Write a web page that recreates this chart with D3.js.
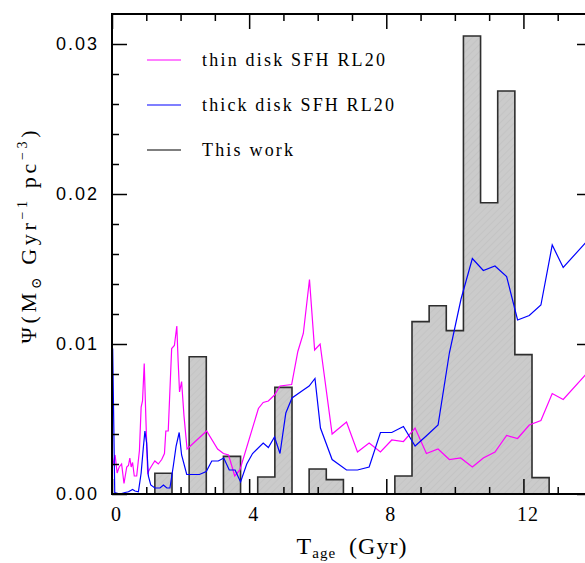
<!DOCTYPE html>
<html>
<head>
<meta charset="utf-8">
<script src="https://cdn.jsdelivr.net/npm/d3@7"></script>
<style>
  body { margin: 0; background: #fff; }
  svg { display: block; }
</style>
</head>
<body>
<svg id="chart" width="585" height="563"></svg>
<script>
// Thin-disk star formation history (RL20): age in Gyr, rate in Msun / Gyr / pc^3
const thinAge = [0.02, 0.09, 0.15, 0.21, 0.28, 0.35, 0.43, 0.48, 0.52, 0.56, 0.60, 0.65, 0.72, 0.80, 0.85, 0.89, 0.94, 0.99,
  1.04, 1.11, 1.19, 1.25, 1.35, 1.45, 1.53, 1.57, 1.64, 1.74, 1.82, 1.89, 1.93, 1.97, 2.03, 2.10, 2.19, 2.76,
  3.08, 3.25, 3.40, 3.58, 3.73, 4.27, 4.41, 4.56, 4.74, 4.90, 5.24, 5.42, 5.58, 5.76, 5.91, 6.07, 6.42, 6.84,
  7.16, 7.50, 7.83, 8.16, 8.50, 8.84, 9.17, 9.51, 9.84, 10.17, 10.51, 10.83, 11.17, 11.51, 11.83, 12.17,
  12.51, 12.84, 13.16, 13.83];
const thinSfr = [0.0019, 0.0026, 0.0014, 0.0018, 0.0020, 0.0007, 0.0018, 0.0019, 0.0024, 0.0018, 0.0021, 0.0012, 0.0012, 0.0029, 0.0058, 0.0062, 0.0087, 0.0049,
  0.0014, 0.0017, 0.0020, 0.0022, 0.0020, 0.0023, 0.0027, 0.0042, 0.0042, 0.0097, 0.0099, 0.0112, 0.0088, 0.0068, 0.0075, 0.0052, 0.0030, 0.0042,
  0.0030, 0.0027, 0.0026, 0.0012, 0.0016, 0.0057, 0.0061, 0.0062, 0.0066, 0.0072, 0.0073, 0.0095, 0.0107, 0.0143, 0.0096, 0.0100, 0.0040, 0.0048,
  0.0028, 0.0034, 0.0028, 0.0036, 0.0035, 0.0044, 0.0027, 0.0030, 0.0023, 0.0024, 0.0018, 0.0024, 0.0028, 0.0039, 0.0037, 0.0046,
  0.0049, 0.0067, 0.0063, 0.0080];

// Thick-disk star formation history (RL20)
const thickAge = [0.02, 0.08, 0.23, 0.38, 0.48, 0.60, 0.67, 0.77, 0.85, 0.91, 0.96, 1.01, 1.06, 1.13, 1.25, 1.40, 1.50, 1.60, 1.69,
  1.79, 1.87, 1.96, 2.03, 2.18, 2.55, 2.75, 2.91, 3.10, 3.26, 3.42, 3.59, 3.75, 3.93, 4.10, 4.41, 4.56, 4.74, 4.90,
  5.07, 5.25, 5.56, 5.75, 5.92, 6.08, 6.42, 6.84, 7.16, 7.50, 7.83, 8.16, 8.50, 8.84, 9.18, 9.51, 9.84, 10.18,
  10.51, 10.83, 11.17, 11.51, 11.83, 12.17, 12.51, 12.84, 13.16, 13.83];
const thickSfr = [0.0097, 0.0001, 0.0000, 0.0001, 0.00015, 0.0003, 0.0002, 0.00015, 0.0014, 0.0030, 0.0042, 0.0034, 0.0012, 0.0006, 0.0004, 0.0004, 0.0006, 0.0004, 0.0004,
  0.0019, 0.0032, 0.0041, 0.0026, 0.0013, 0.0013, 0.0015, 0.0022, 0.0022, 0.0024, 0.0016, 0.0016, 0.0008, 0.0020, 0.0027, 0.0034, 0.0031, 0.0038, 0.0027,
  0.0054, 0.0064, 0.0069, 0.0072, 0.0077, 0.0044, 0.0023, 0.0016, 0.0016, 0.0018, 0.0041, 0.0041, 0.0045, 0.0032, 0.0039, 0.0046, 0.0094, 0.0130,
  0.0157, 0.0149, 0.0152, 0.0145, 0.0116, 0.0119, 0.0126, 0.0166, 0.0151, 0.0168];

// Star formation history from this work: 0.5 Gyr bins starting at 1.25 Gyr
const histStart = 1.25;
const histWidth = 0.5;
const histValues = [0.00138, 0, 0.00915, 0, 0.00251, 0, 0.00113, 0.00711, 0, 0.00167, 0.00096, 0, 0, 0,
  0.00120, 0.01149, 0.01255, 0.01089, 0.03053, 0.01942, 0.02687, 0.00929, 0.00109];

// Axis ticks and labels
const xMajorTicks = [0, 4, 8, 12];
const xMinorTicks = [1, 2, 3, 5, 6, 7, 9, 10, 11, 13];
const yMajorTicks = [0, 0.01, 0.02, 0.03];
const yTickLabels = ["0.00", "0.01", "0.02", "0.03"];
const yMinorTicks = [0.002, 0.004, 0.006, 0.008, 0.012, 0.014, 0.016, 0.018, 0.022, 0.024, 0.026, 0.028];

const legendLabels = ["thin disk SFH RL20", "thick disk SFH RL20", "This work"];
const legendColors = ["#ff00ff", "#0000ff", "#000000"];

const frame = { left: 112, top: 14, right: 592, bottom: 494 };
const svg = d3.select("#chart");

const x = d3.scaleLinear().domain([0, 14]).range([frame.left, frame.right]);
const y = d3.scaleLinear().domain([0, 0.032]).range([frame.bottom, frame.top]);

const defs = svg.append("defs");
defs.append("clipPath").attr("id", "plotClip")
  .append("rect")
  .attr("x", frame.left).attr("y", frame.top)
  .attr("width", frame.right - frame.left).attr("height", frame.bottom - frame.top);

const hatch = defs.append("pattern")
  .attr("id", "hatch").attr("patternUnits", "userSpaceOnUse")
  .attr("width", 5).attr("height", 5)
  .attr("patternTransform", "rotate(45)");
hatch.append("rect").attr("width", 5).attr("height", 5).attr("fill", "#cbcbcb");
hatch.append("line").attr("x1", 0).attr("y1", 0).attr("x2", 0).attr("y2", 5)
  .attr("stroke", "#b9b9b9").attr("stroke-width", 0.8);

// Histogram as a closed step outline
const histPts = [[histStart, 0]];
histValues.forEach((v, i) => {
  const lo = histStart + i * histWidth;
  histPts.push([lo, v], [lo + histWidth, v]);
});
histPts.push([histStart + histValues.length * histWidth, 0]);

const plot = svg.append("g").attr("clip-path", "url(#plotClip)");

plot.append("path")
  .datum(histPts)
  .attr("d", d3.area().x(d => x(d[0])).y0(y(0)).y1(d => y(d[1])))
  .attr("fill", "url(#hatch)");

plot.append("path")
  .datum(histPts)
  .attr("d", d3.line().x(d => x(d[0])).y(d => y(d[1])))
  .attr("fill", "none").attr("stroke", "#2e2e2e").attr("stroke-width", 1.6);

const sfhLine = d3.line().x(d => x(d[0])).y(d => y(d[1]));
plot.append("path")
  .datum(d3.zip(thinAge, thinSfr))
  .attr("d", sfhLine)
  .attr("fill", "none").attr("stroke", "#ff00ff").attr("stroke-width", 1.2);
plot.append("path")
  .datum(d3.zip(thickAge, thickSfr))
  .attr("d", sfhLine)
  .attr("fill", "none").attr("stroke", "#0000ff").attr("stroke-width", 1.2);

// Axes: inward ticks on all four sides
function styleAxis(g) {
  g.select(".domain").remove();
  g.selectAll(".tick line").attr("stroke", "#000").attr("stroke-width", 1.5);
}

svg.append("g").attr("transform", `translate(0,${frame.bottom})`)
  .call(d3.axisBottom(x).tickValues(xMajorTicks).tickSize(-15).tickPadding(13).tickFormat(d3.format("d")))
  .call(styleAxis)
  .call(g => g.selectAll(".tick text")
    .attr("dx", 4)
    .attr("font-family", "'Liberation Serif', 'DejaVu Serif', serif")
    .attr("font-size", 20).attr("letter-spacing", 1).attr("fill", "#000"));
svg.append("g").attr("transform", `translate(0,${frame.bottom})`)
  .call(d3.axisBottom(x).tickValues(xMinorTicks).tickSize(-7).tickFormat(""))
  .call(styleAxis);

svg.append("g").attr("transform", `translate(0,${frame.top})`)
  .call(d3.axisTop(x).tickValues(xMajorTicks).tickSize(-15).tickFormat(""))
  .call(styleAxis);
svg.append("g").attr("transform", `translate(0,${frame.top})`)
  .call(d3.axisTop(x).tickValues(xMinorTicks).tickSize(-7).tickFormat(""))
  .call(styleAxis);

svg.append("g").attr("transform", `translate(${frame.left},0)`)
  .call(d3.axisLeft(y).tickValues(yMajorTicks).tickSize(-15).tickPadding(13)
    .tickFormat((d, i) => yTickLabels[i]))
  .call(styleAxis)
  .call(g => g.selectAll(".tick text")
    .attr("font-family", "'Liberation Sans', Arial, sans-serif")
    .attr("font-size", 18).attr("letter-spacing", 2).attr("fill", "#000"));
svg.append("g").attr("transform", `translate(${frame.left},0)`)
  .call(d3.axisLeft(y).tickValues(yMinorTicks).tickSize(-7).tickFormat(""))
  .call(styleAxis);

svg.append("g").attr("transform", `translate(${frame.right},0)`)
  .call(d3.axisRight(y).tickValues(yMajorTicks).tickSize(-15).tickFormat(""))
  .call(styleAxis);
svg.append("g").attr("transform", `translate(${frame.right},0)`)
  .call(d3.axisRight(y).tickValues(yMinorTicks).tickSize(-7).tickFormat(""))
  .call(styleAxis);

svg.append("rect")
  .attr("x", frame.left).attr("y", frame.top)
  .attr("width", frame.right - frame.left).attr("height", frame.bottom - frame.top)
  .attr("fill", "none").attr("stroke", "#000").attr("stroke-width", 2);

// Legend
const serif = "'Liberation Serif', 'DejaVu Serif', serif";
const legendWidths = [183, 192, 91];
const legend = svg.append("g");
legendLabels.forEach((label, i) => {
  const ly = 60 + i * 45;
  legend.append("line")
    .attr("x1", 147).attr("x2", 181).attr("y1", ly).attr("y2", ly)
    .attr("stroke", legendColors[i]).attr("stroke-width", 1.2);
  legend.append("text")
    .attr("x", 202).attr("y", ly + 6)
    .attr("font-family", serif).attr("font-size", 18)
    .attr("textLength", legendWidths[i]).attr("lengthAdjust", "spacing")
    .attr("fill", "#000")
    .text(label);
});

// Axis titles
const xt = svg.append("text")
  .attr("x", 352).attr("y", 554)
  .attr("text-anchor", "middle")
  .attr("font-family", serif).attr("font-size", 24).attr("letter-spacing", 1)
  .attr("fill", "#000");
xt.append("tspan").text("T");
xt.append("tspan").attr("font-size", 15).attr("dy", 4).text("age");
xt.append("tspan").attr("dy", -4).text("\u2002(Gyr)");

const yt = svg.append("text")
  .attr("transform", "translate(36,237) rotate(-90)")
  .attr("text-anchor", "middle")
  .attr("font-family", serif).attr("font-size", 22)
  .attr("textLength", 213).attr("lengthAdjust", "spacing")
  .attr("fill", "#000");
yt.append("tspan").text("\u03A8(M");
yt.append("tspan").attr("font-size", 14).attr("dy", 5).text("\u2299");
yt.append("tspan").attr("dy", -5).text(" Gyr");
yt.append("tspan").attr("font-size", 14).attr("dy", -9).text("\u22121");
yt.append("tspan").attr("dy", 9).text(" pc");
yt.append("tspan").attr("font-size", 14).attr("dy", -9).text("\u22123");
yt.append("tspan").attr("dy", 9).text(")");
</script>
</body>
</html>
